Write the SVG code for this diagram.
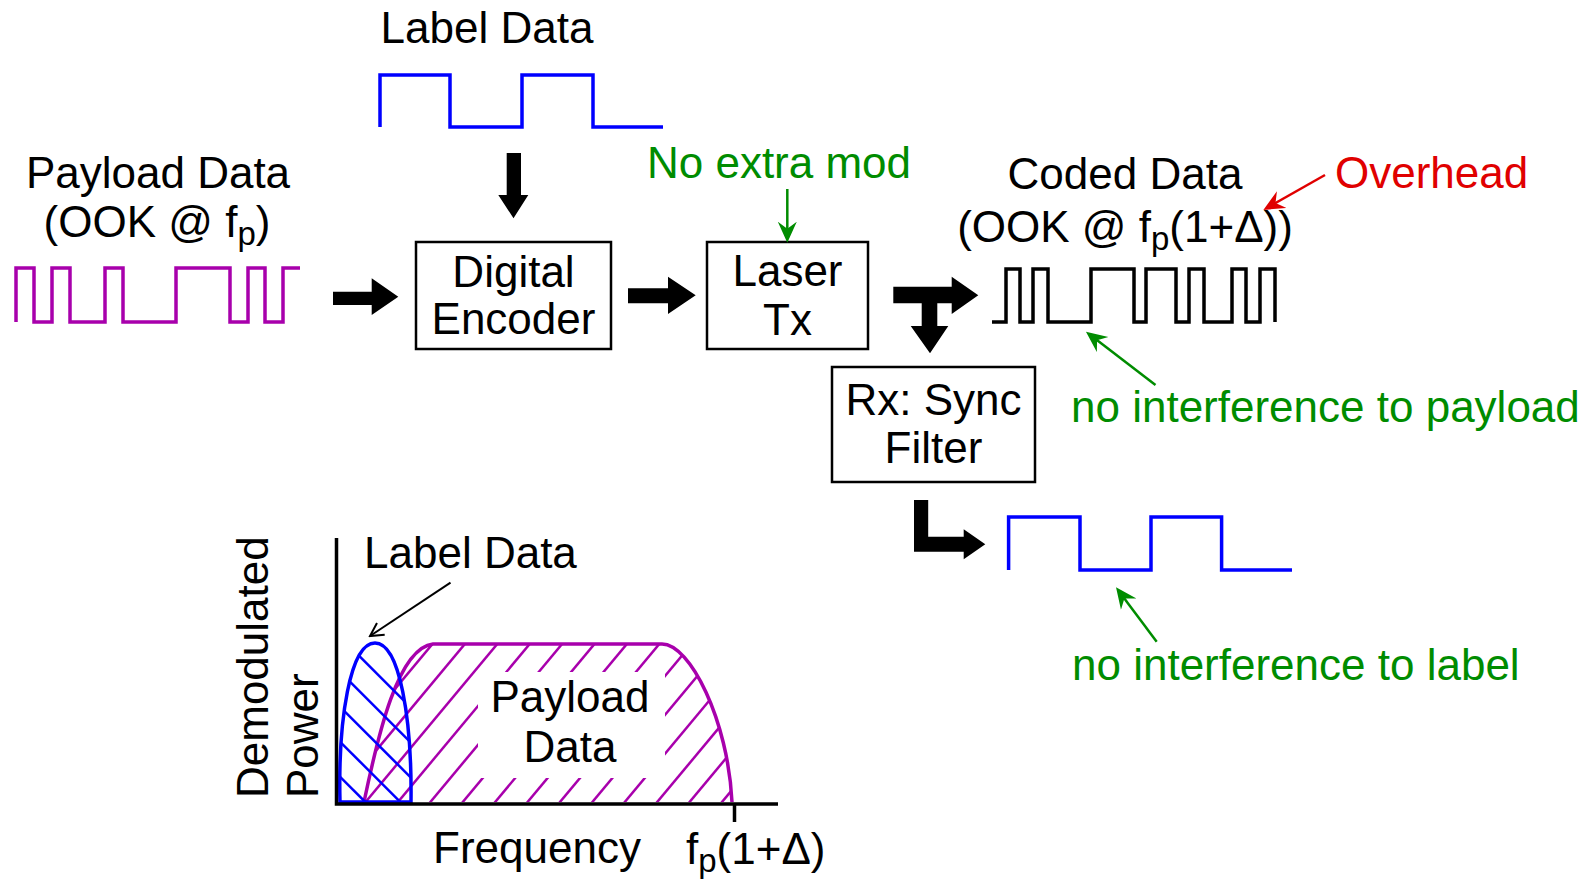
<svg xmlns="http://www.w3.org/2000/svg" width="1591" height="879" viewBox="0 0 1591 879">
  <style>
    .t { font-family: "Liberation Sans", Arial, sans-serif; font-size: 44px; fill: #000; }
    .mid { text-anchor: middle; }
    .grn { fill: #008C00; }
    .red { fill: #E00000; }
    .sub { font-size: 33px; }
    .box { fill: #fff; stroke: #000; stroke-width: 2.5; }
    .block { fill: #000; stroke: none; }
    .wave { fill: none; stroke-width: 3.5; stroke-linejoin: miter; }
    .gline { fill: none; stroke: #008C00; stroke-width: 2.5; }
    .rline { fill: none; stroke: #E00000; stroke-width: 2.5; }
    .kline { fill: none; stroke: #000; stroke-width: 2; }
    .mag { stroke: #A800AC; }
    .blu { stroke: #0000FF; }
  </style>
  <defs>
    <marker id="stealthG" markerUnits="userSpaceOnUse" viewBox="0 0 21 20" refX="13" refY="10" markerWidth="21" markerHeight="20" orient="auto">
      <path d="M0,0.5 L21,10 L0,19.5 L7,10 Z" fill="#008C00"/>
    </marker>
    <marker id="stealthR" markerUnits="userSpaceOnUse" viewBox="0 0 21 20" refX="13" refY="10" markerWidth="21" markerHeight="20" orient="auto">
      <path d="M0,0.5 L21,10 L0,19.5 L7,10 Z" fill="#E00000"/>
    </marker>
    <marker id="openK" markerUnits="userSpaceOnUse" viewBox="0 0 16 16" refX="14" refY="8" markerWidth="16" markerHeight="16" orient="auto">
      <path d="M1,1 L14,8 L1,15" fill="none" stroke="#000" stroke-width="2"/>
    </marker>
    <clipPath id="clipMag">
      <path d="M364,802 C378,735 398,648 433,644 L662,644 C690,644 728,720 732,802 Z"/>
    </clipPath>
    <clipPath id="clipBlue">
      <path d="M340,802 C338,720 350,643 375,643 C400,643 412,720 411,802 Z"/>
    </clipPath>
  </defs>

  <!-- Payload input -->
  <g id="payload-input">
    <text class="t mid" x="158" y="188">Payload Data</text>
    <text class="t mid" x="157" y="237">(OOK @ f<tspan class="sub" dy="8">p</tspan><tspan dy="-8">)</tspan></text>
    <path class="wave mag" d="M16,322 V268 H34 V322 H52 V268 H70 V322 H105 V268 H123 V322 H176 V268 H230 V322 H248 V268 H265 V322 H283 V268 H300"/>
  </g>

  <!-- Label input -->
  <g id="label-input">
    <text class="t mid" x="487" y="43">Label Data</text>
    <path class="wave blu" d="M380,127 V75 H450 V127 H522 V75 H593 V127 H663"/>
  </g>

  <!-- Digital Encoder -->
  <g id="digital-encoder">
    <rect class="box" x="416" y="242" width="195" height="107"/>
    <text class="t mid" x="513.5" y="287">Digital</text>
    <text class="t mid" x="513.5" y="334">Encoder</text>
  </g>

  <!-- Laser Tx -->
  <g id="laser-tx">
    <rect class="box" x="707" y="242" width="161" height="107"/>
    <text class="t mid" x="787.5" y="286">Laser</text>
    <text class="t mid" x="787.5" y="335">Tx</text>
  </g>

  <g id="no-extra-mod">
    <text class="t mid grn" x="779" y="178">No extra mod</text>
  </g>

  <!-- Coded output -->
  <g id="coded-data">
    <text class="t mid" x="1125" y="189">Coded Data</text>
    <text class="t mid" x="1125" y="242">(OOK @ f<tspan class="sub" dy="8">p</tspan><tspan dy="-8">(1+Δ))</tspan></text>
    <path class="wave" stroke="#000" d="M992,322 H1006 V269 H1020 V322 H1033 V269 H1048 V322 H1091 V269 H1134 V322 H1146 V269 H1176 V322 H1189 V269 H1204 V322 H1232 V269 H1246 V322 H1260 V269 H1275 V322"/>
  </g>

  <g id="overhead">
    <text class="t red" x="1335" y="188">Overhead</text>
  </g>

  <g id="note-payload">
    <text class="t grn" x="1071" y="422">no interference to payload</text>
  </g>

  <!-- Rx Sync Filter -->
  <g id="rx-sync-filter">
    <rect class="box" x="832" y="367" width="203" height="115"/>
    <text class="t mid" x="933.5" y="415">Rx: Sync</text>
    <text class="t mid" x="933.5" y="463">Filter</text>
  </g>

  <!-- Recovered label -->
  <g id="recovered-label">
    <path class="wave blu" d="M1008.6,570 V517 H1080 V570 H1151 V517 H1221.6 V570 H1292"/>
  </g>

  <g id="note-label">
    <text class="t grn" x="1072" y="680">no interference to label</text>
  </g>

  <!-- Spectrum plot -->
  <g id="spectrum-plot">
    <g clip-path="url(#clipMag)" stroke="#A800AC" stroke-width="2.5">
      <line x1="258.4" y1="814" x2="408.4" y2="634"/>
      <line x1="290.8" y1="814" x2="440.8" y2="634"/>
      <line x1="323.2" y1="814" x2="473.2" y2="634"/>
      <line x1="355.6" y1="814" x2="505.6" y2="634"/>
      <line x1="388" y1="814" x2="538" y2="634"/>
      <line x1="420.4" y1="814" x2="570.4" y2="634"/>
      <line x1="452.8" y1="814" x2="602.8" y2="634"/>
      <line x1="485.2" y1="814" x2="635.2" y2="634"/>
      <line x1="517.6" y1="814" x2="667.6" y2="634"/>
      <line x1="550" y1="814" x2="700" y2="634"/>
      <line x1="582.4" y1="814" x2="732.4" y2="634"/>
      <line x1="614.8" y1="814" x2="764.8" y2="634"/>
      <line x1="647.2" y1="814" x2="797.2" y2="634"/>
      <line x1="679.6" y1="814" x2="829.6" y2="634"/>
      <line x1="712" y1="814" x2="862" y2="634"/>
    </g>
    <rect x="478" y="672" width="187" height="106" fill="#fff"/>
    <path d="M364,802 C378,735 398,648 433,644 L662,644 C690,644 728,720 732,802" fill="none" stroke="#A800AC" stroke-width="3.5"/>
    <g clip-path="url(#clipBlue)" stroke="#0000FF" stroke-width="2.5">
      <line x1="300" y1="596.7" x2="440" y2="736.7"/>
      <line x1="300" y1="631.7" x2="440" y2="771.7"/>
      <line x1="300" y1="666.7" x2="440" y2="806.7"/>
      <line x1="300" y1="701.7" x2="440" y2="841.7"/>
      <line x1="300" y1="736.7" x2="440" y2="876.7"/>
    </g>
    <path d="M340,802 C338,720 350,643 375,643 C400,643 412,720 411,802 Z" fill="none" stroke="#0000FF" stroke-width="3.5"/>
    <path d="M336.5,538 V804 H778" fill="none" stroke="#000" stroke-width="3.5"/>
    <line x1="734.5" y1="804" x2="734.5" y2="822" stroke="#000" stroke-width="3.5"/>
    <text class="t" x="364" y="568">Label Data</text>
    <text class="t mid" x="570" y="712">Payload</text>
    <text class="t mid" x="570" y="762">Data</text>
    <text class="t" transform="translate(268,798) rotate(-90)">Demodulated</text>
    <text class="t" transform="translate(318,798) rotate(-90)">Power</text>
    <text class="t" x="433" y="863">Frequency</text>
    <text class="t" x="686" y="864">f<tspan class="sub" dy="8">p</tspan><tspan dy="-8">(1+Δ)</tspan></text>
  </g>

  <!-- Connectors -->
  <g id="connectors">
    <polygon class="block" points="333,291.7 371.7,291.7 371.7,278.3 398.3,296.7 371.7,315 371.7,305 333,305"/>
    <polygon class="block" points="506.7,153 521,153 521,195 528.3,195 513.5,218.3 498.3,195 506.7,195"/>
    <polygon class="block" points="628,288.3 668,288.3 668,276.7 695.7,295.3 668,314 668,303.3 628,303.3"/>
    <polygon class="block" points="893.3,286.7 951.7,286.7 951.7,276.7 978.3,295.3 951.7,314 951.7,303.3 937.3,303.3 937.3,326 948.3,326 930,353.3 910.7,326 921.7,326 921.7,303.3 893.3,303.3"/>
    <polygon class="block" points="914,500 928.2,500 928.2,536.7 963.7,536.7 963.7,529.3 985.3,544.3 963.7,559.3 963.7,551.7 914,551.7"/>
    <line class="gline" x1="787.3" y1="189" x2="787.3" y2="234.7" marker-end="url(#stealthG)"/>
    <line class="gline" x1="1155.5" y1="385" x2="1092.3" y2="336.6" marker-end="url(#stealthG)"/>
    <line class="gline" x1="1156.7" y1="641.7" x2="1120.8" y2="593.7" marker-end="url(#stealthG)"/>
    <line class="rline" x1="1325" y1="175" x2="1270.3" y2="206" marker-end="url(#stealthR)"/>
    <line class="kline" x1="450.5" y1="582.7" x2="370" y2="636" marker-end="url(#openK)"/>
  </g>
</svg>
